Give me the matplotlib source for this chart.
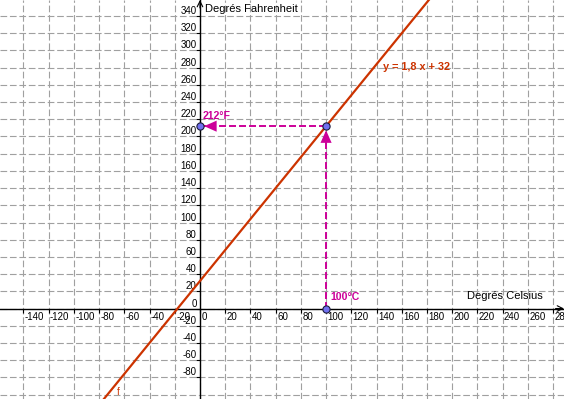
"""
Celsius -> Fahrenheit conversion line, GeoGebra-like look.
"""
import matplotlib
matplotlib.use("Agg")
import matplotlib.pyplot as plt
import numpy as np

plt.rcParams["font.family"] = ["Liberation Sans", "DejaVu Sans"]
plt.rcParams["lines.scale_dashes"] = False

# conversion F = 1.8 C + 32
SLOPE = 1.8
INTERCEPT = 32
BOILING_C = 100
BOILING_F = 212

X_TICKS = list(range(-140, 281, 20))
Y_TICKS = list(range(-80, 341, 20))
X_RANGE = (-158.6, 288.7)
Y_RANGE = (-105.2, 358.7)

LINE_COLOR = "#cc3300"
MAGENTA = "#cc0099"
POINT_FACE = "#7070f0"

fig = plt.figure(figsize=(5.64, 3.99), dpi=100)
ax = fig.add_axes([0, 0, 1, 1])
ax.set_xlim(*X_RANGE)
ax.set_ylim(*Y_RANGE)

# dashed grid
for xv in range(-160, 300, 20):
    ax.axvline(xv, color="#a0a0a0", lw=0.8, dashes=(4.8, 2.0), zorder=1)
for yv in range(-100, 360, 20):
    ax.axhline(yv, color="#a0a0a0", lw=0.8, dashes=(4.8, 2.0), zorder=1)

# axes through origin
for side in ("top", "right"):
    ax.spines[side].set_visible(False)
ax.spines["bottom"].set_position(("data", 0))
ax.spines["left"].set_position(("data", 0))
for side in ("bottom", "left"):
    ax.spines[side].set_linewidth(1.0)
    ax.spines[side].set_zorder(3)
ax.set_xticks(X_TICKS)
ax.set_yticks(Y_TICKS)
ax.tick_params(direction="out", length=3, width=0.8,
               labelbottom=False, labelleft=False)

for v in X_TICKS:
    ax.annotate(str(v), (v, 0), xytext=(1, -2.8), textcoords="offset points",
                ha="left", va="top", fontsize=7, annotation_clip=False)
for v in Y_TICKS:
    ax.annotate(str(v), (0, v), xytext=(-2.5, 0), textcoords="offset points",
                ha="right", va="bottom", fontsize=7, annotation_clip=False)

# axis arrows
ax.annotate("", xy=(1.0, 0), xytext=(0.985, 0),
            xycoords=("axes fraction", "data"),
            arrowprops=dict(arrowstyle="->", lw=0.8, color="black",
                            shrinkA=0, shrinkB=0))
ax.annotate("", xy=(0, 1.0), xytext=(0, 0.98),
            xycoords=("data", "axes fraction"),
            arrowprops=dict(arrowstyle="->", lw=0.8, color="black",
                            shrinkA=0, shrinkB=0))

ax.text(4, 348, "Degrés Fahrenheit", fontsize=8, va="center", ha="left")
ax.text(212, 14.5, "Degrés Celsius", fontsize=8, va="center", ha="left")

# the function
xs = np.array(X_RANGE)
ax.plot(xs, SLOPE * xs + INTERCEPT, color=LINE_COLOR, lw=1.6, zorder=4)
ax.text(145, 281, "y = 1,8 x + 32", color=LINE_COLOR, fontsize=7.8,
        fontweight="bold", va="center", ha="left")
ax.text(-66, -97, "f", color=LINE_COLOR, fontsize=7, va="center", ha="left")

# dashed construction with arrows
ax.plot([BOILING_C, BOILING_C], [0, BOILING_F], color=MAGENTA, lw=1.4,
        dashes=(5, 2.2), zorder=5)
ax.plot([BOILING_C, 0], [BOILING_F, BOILING_F], color=MAGENTA, lw=1.4,
        dashes=(5, 2.2), zorder=5)
ax.annotate("", xy=(BOILING_C, BOILING_F), xytext=(BOILING_C, BOILING_F - 17),
            arrowprops=dict(arrowstyle="-|>,head_length=0.9,head_width=0.4",
                            color=MAGENTA, lw=0, shrinkA=0, shrinkB=3),
            zorder=5)
ax.annotate("", xy=(0, BOILING_F), xytext=(12, BOILING_F),
            arrowprops=dict(arrowstyle="-|>,head_length=0.9,head_width=0.4",
                            color=MAGENTA, lw=0, shrinkA=0, shrinkB=3),
            zorder=5)

ax.plot([0, BOILING_C, BOILING_C], [BOILING_F, BOILING_F, 0], ls="none",
        marker="o", ms=5.2, mfc=POINT_FACE, mec="#1a1a3a", mew=0.8,
        zorder=6, clip_on=False)

ax.text(2.4, 224, f"{BOILING_F}°F", color=MAGENTA, fontsize=7.6,
        fontweight="bold", va="center", ha="left")
ax.text(103.6, 13.7, f"{BOILING_C}°C", color=MAGENTA, fontsize=7.6,
        fontweight="bold", va="center", ha="left")

fig.savefig("out.png", dpi=100)
